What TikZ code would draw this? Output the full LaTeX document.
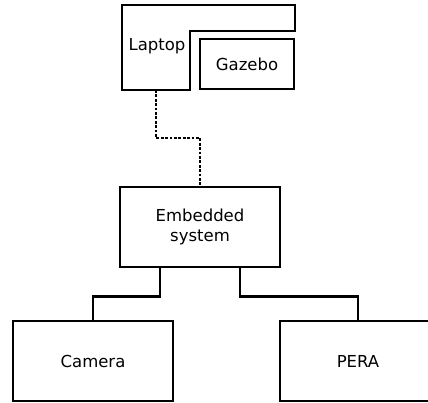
\documentclass[tikz,border=0pt]{standalone}
\usepackage{fontspec}
\setmainfont{DejaVu Sans}
\begin{document}
\begin{tikzpicture}[x=1pt,y=-1pt,
  line width=2.8pt,
  blk/.style={draw, rectangle, line width=2.8pt, inner sep=0pt, align=center, font=\fontsize{16.5}{20}\selectfont},
  lbl/.style={inner sep=0pt, font=\fontsize{16.5}{20}\selectfont},
  wire/.style={line width=2.8pt},
  dotwire/.style={line width=2.8pt, dash pattern=on 2.8pt off 1.6pt}
]
\useasboundingbox (0,0) rectangle (428,403);
\clip (0,0) rectangle (428,403);

% laptop outline (L-shaped) wrapping the Gazebo box
\draw[line join=miter] (122,5) -- (295,5) -- (295,31) -- (190,31) -- (190,90) -- (122,90) -- cycle;
\node[lbl] (laptop) at (157,46) {Laptop};
\coordinate (laptopbot) at (156,90);

\node[blk, minimum width=94pt, minimum height=50pt] (gazebo) at (247,64) {Gazebo};

\node[blk, minimum width=160pt, minimum height=80pt] (emb) at (200,227) {Embedded\\system};
\node[blk, minimum width=160pt, minimum height=80pt] (cam) at (93,361) {Camera};
\node[blk, minimum width=156pt, minimum height=80pt] (pera) at (358,361) {PERA};

% links
\draw[dotwire] (laptopbot) -- ++(0,48) -| (emb.north);
\draw[wire] ([xshift=-40pt]emb.south) -- ++(0,28) -| (cam.north);
\draw[wire] ([xshift=40pt]emb.south) -- ++(0,28) -| (pera.north);
\end{tikzpicture}
\end{document}
